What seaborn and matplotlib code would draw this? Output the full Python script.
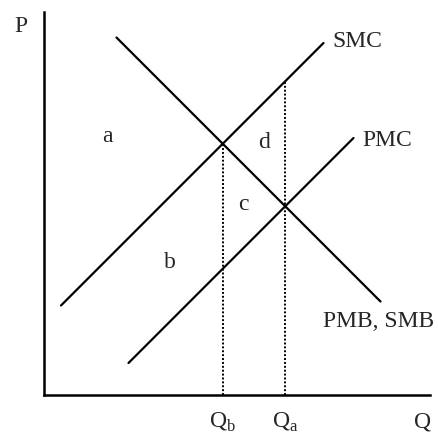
import pandas as pd
import seaborn as sns
import matplotlib.pyplot as plt

# values (arbitrary units, origin at the axes corner)
smc_q = [17.5, 280]
smc_p = [89.5, 352]
pmc_q = [85, 310]
pmc_p = [32, 257]
mb_q = [73, 337]
mb_p = [357.5, 93.5]

q_b = 179.25
q_a = 241.75
qb_top = 251.25   # where SMC meets PMB, SMB
qa_top = 313.75   # SMC above Q_a

area_labels = ['a', 'b', 'c', 'd']
area_q = [63.5, 126.5, 199.8, 220.8]
area_p = [258, 132, 190, 253]

curve_names = ['SMC', 'PMC', 'PMB, SMB']
name_q = [288.8, 319.2, 279.2]
name_p = [353.3, 255, 73.3]

sns.set_style('white')
plt.rcParams['font.family'] = ['Liberation Serif', 'DejaVu Serif']
plt.rcParams['mathtext.fontset'] = 'custom'
plt.rcParams['mathtext.rm'] = 'Liberation Serif'

curves = pd.concat([
    pd.DataFrame({'Q': smc_q, 'P': smc_p, 'curve': 'SMC'}),
    pd.DataFrame({'Q': pmc_q, 'P': pmc_p, 'curve': 'PMC'}),
    pd.DataFrame({'Q': mb_q, 'P': mb_p, 'curve': 'MB'}),
])

fig = plt.figure(figsize=(4.38, 4.32), dpi=100)
ax = fig.add_axes([43.5 / 438, 37 / 432, 386.5 / 438, 383 / 432])

sns.lineplot(data=curves, x='Q', y='P', units='curve', estimator=None,
             color='black', linewidth=1.6, sort=False, ax=ax)

# dotted drop lines
ax.plot([q_b, q_b], [0, qb_top], color='black', linestyle=(0, (1, 1)), linewidth=1.4)
ax.plot([q_a, q_a], [0, qa_top], color='black', linestyle=(0, (1, 1)), linewidth=1.4)

fs = 17
for lab, q, p in zip(area_labels, area_q, area_p):
    ax.text(q, p, lab, fontsize=fs, ha='center', va='center')
for lab, q, p in zip(curve_names, name_q, name_p):
    ax.text(q, p, lab, fontsize=fs, ha='left', va='center')

ax.text(-22.5, 369, 'P', fontsize=fs, ha='center', va='center', clip_on=False)
ax.text(379.5, -27, 'Q', fontsize=fs, ha='center', va='center', clip_on=False)
ax.text(q_b, -27, r'Q$_\mathregular{b}$', fontsize=fs, ha='center', va='center', clip_on=False)
ax.text(q_a, -27, r'Q$_\mathregular{a}$', fontsize=fs, ha='center', va='center', clip_on=False)

ax.set_xlim(0, 386.5)
ax.set_ylim(0, 383)
ax.set_xticks([])
ax.set_yticks([])
ax.set_xlabel('')
ax.set_ylabel('')
sns.despine(ax=ax)
for side in ['left', 'bottom']:
    ax.spines[side].set_linewidth(1.8)
    ax.spines[side].set_color('black')

fig.savefig('out.png', dpi=100)
